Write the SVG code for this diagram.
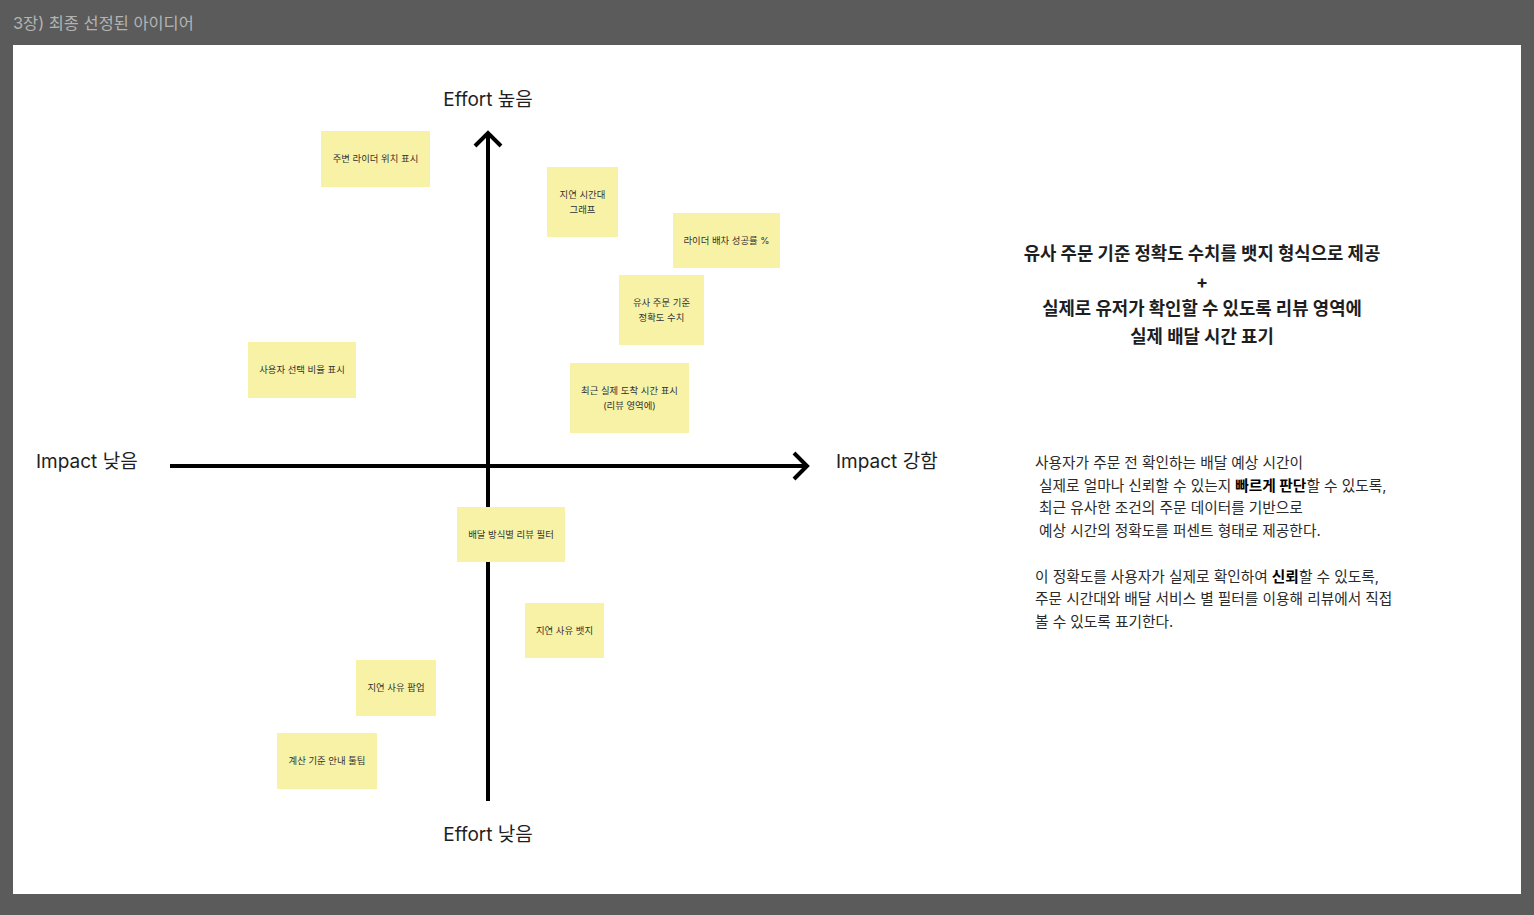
<svg xmlns="http://www.w3.org/2000/svg" width="1534" height="915" viewBox="0 0 1534 915">
<style>
.t{font-family:Inter,"Noto Sans CJK KR",sans-serif}
.note{fill:#f7f2a6}
.nt{font-family:Inter,"Noto Sans CJK KR",sans-serif;font-size:9.4px;fill:#333;text-anchor:middle}
.ax{font-family:Inter,"Noto Sans CJK KR",sans-serif;font-size:19px;fill:#1e1e1e}
.hd{font-family:Inter,"Noto Sans CJK KR",sans-serif;font-size:17.8px;font-weight:700;fill:#1e1e1e;text-anchor:middle}
.p{font-family:Inter,"Noto Sans CJK KR",sans-serif;font-size:14.7px;fill:#2a2a2a}
.line{stroke:#000;stroke-width:4;fill:none}
</style>
<rect x="0" y="0" width="1534" height="915" fill="#5b5b5b"/>
<text x="13" y="29" class="t" font-size="16.4" fill="#b3b3b3">3장) 최종 선정된 아이디어</text>
<rect x="13" y="45" width="1508" height="849" fill="#ffffff"/>

<g id="connectors">
<line class="line" x1="488" y1="801" x2="488" y2="134"/>
<polyline class="line" points="475,146 488,133 501,146"/>
<line class="line" x1="170" y1="466" x2="806" y2="466"/>
<polyline class="line" points="794,453 807,466 794,479"/>
</g>

<g id="labels">
<text class="ax" x="488" y="106" text-anchor="middle">Effort 높음</text>
<text class="ax" x="488" y="841" text-anchor="middle">Effort 낮음</text>
<text class="ax" x="36" y="468">Impact 낮음</text>
<text class="ax" x="836" y="468">Impact 강함</text>
</g>

<g id="n1"><rect class="note" x="321" y="131" width="109" height="56"/><text class="nt" x="375.5" y="162">주변 라이더 위치 표시</text></g>
<g id="n2"><rect class="note" x="547" y="167" width="71" height="70"/><text class="nt" x="582.5" y="198">지연 시간대</text><text class="nt" x="582.5" y="213">그래프</text></g>
<g id="n3"><rect class="note" x="673" y="213" width="107" height="55"/><text class="nt" x="726.5" y="244">라이더 배차 성공률 %</text></g>
<g id="n4"><rect class="note" x="619" y="275" width="85" height="70"/><text class="nt" x="661.5" y="306">유사 주문 기준</text><text class="nt" x="661.5" y="321">정확도 수치</text></g>
<g id="n5"><rect class="note" x="248" y="342" width="108" height="56"/><text class="nt" x="302" y="373">사용자 선택 비율 표시</text></g>
<g id="n6"><rect class="note" x="570" y="363" width="119" height="70"/><text class="nt" x="629.5" y="394">최근 실제 도착 시간 표시</text><text class="nt" x="629.5" y="409">(리뷰 영역에)</text></g>
<g id="n7"><rect class="note" x="457" y="507" width="108" height="55"/><text class="nt" x="511" y="538">배달 방식별 리뷰 필터</text></g>
<g id="n8"><rect class="note" x="525" y="603" width="79" height="55"/><text class="nt" x="564.5" y="634">지연 사유 뱃지</text></g>
<g id="n9"><rect class="note" x="356" y="660" width="80" height="56"/><text class="nt" x="396" y="691">지연 사유 팝업</text></g>
<g id="n10"><rect class="note" x="277" y="733" width="100" height="56"/><text class="nt" x="327" y="764">계산 기준 안내 툴팁</text></g>

<g id="summary">
<text class="hd" x="1202" y="260">유사 주문 기준 정확도 수치를 뱃지 형식으로 제공</text>
<text class="hd" x="1202" y="288">+</text>
<text class="hd" x="1202" y="315">실제로 유저가 확인할 수 있도록 리뷰 영역에</text>
<text class="hd" x="1202" y="343">실제 배달 시간 표기</text>
</g>

<g id="description">
<text class="p" x="1035" y="468">사용자가 주문 전 확인하는 배달 예상 시간이</text>
<text class="p" x="1039" y="491">실제로 얼마나 신뢰할 수 있는지 <tspan font-weight="700" fill="#000">빠르게 판단</tspan>할 수 있도록,</text>
<text class="p" x="1039" y="513">최근 유사한 조건의 주문 데이터를 기반으로</text>
<text class="p" x="1039" y="536">예상 시간의 정확도를 퍼센트 형태로 제공한다.</text>
<text class="p" x="1035" y="582">이 정확도를 사용자가 실제로 확인하여 <tspan font-weight="700" fill="#000">신뢰</tspan>할 수 있도록,</text>
<text class="p" x="1035" y="604">주문 시간대와 배달 서비스 별 필터를 이용해 리뷰에서 직접</text>
<text class="p" x="1035" y="627">볼 수 있도록 표기한다.</text>
</g>
</svg>
